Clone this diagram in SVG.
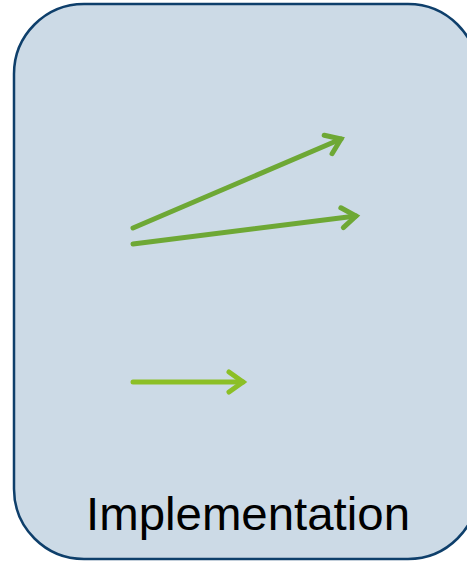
<svg xmlns="http://www.w3.org/2000/svg" width="467" height="563" viewBox="0 0 467 563">
<style>
.box{fill:#CCDAE6;stroke:#0E3F6B;stroke-width:2.5}
.lbl{font-family:"Liberation Sans",Arial,sans-serif;font-size:46px;fill:#000}
.a1{fill:none;stroke:#6EA835;stroke-width:5;stroke-linecap:round}
.a2{fill:none;stroke:#8CBF26;stroke-width:5;stroke-linecap:round}
</style>
<defs>
<marker id="h1" markerUnits="userSpaceOnUse" viewBox="-20 -14 26 28" markerWidth="26" markerHeight="28" refX="0" refY="0" orient="auto" overflow="visible">
<path d="M-14,-10 L0,0 L-14,10" fill="none" stroke="#6EA835" stroke-width="5" stroke-linecap="round" stroke-linejoin="miter"/>
</marker>
<marker id="h2" markerUnits="userSpaceOnUse" viewBox="-20 -14 26 28" markerWidth="26" markerHeight="28" refX="0" refY="0" orient="auto" overflow="visible">
<path d="M-14,-10 L0,0 L-14,10" fill="none" stroke="#8CBF26" stroke-width="5" stroke-linecap="round" stroke-linejoin="miter"/>
</marker>
</defs>
<g id="implementation">
<rect class="box" x="14" y="4" width="464" height="555" rx="70" ry="70"/>
<text class="lbl" x="248" y="530" text-anchor="middle" textLength="324" lengthAdjust="spacingAndGlyphs">Implementation</text>
</g>
<g id="connectors">
<path class="a1" d="M133,228 L341,139" marker-end="url(#h1)"/>
<path class="a1" d="M133,244 L356,216" marker-end="url(#h1)"/>
<path class="a2" d="M133,382 L243,382" marker-end="url(#h2)"/>
</g>
</svg>
